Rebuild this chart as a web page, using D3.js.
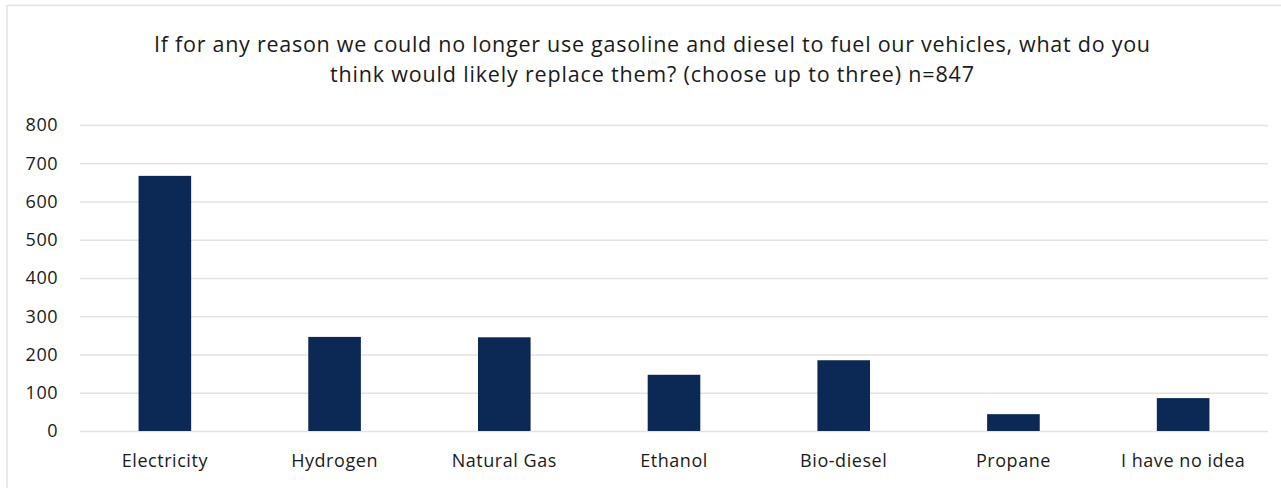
<!DOCTYPE html>
<html><head><meta charset="utf-8">
<script src="https://cdn.jsdelivr.net/npm/d3@7"></script>
<style>body{margin:0;background:#fff}svg{display:block}</style>
</head><body>
<svg id="c" width="1281" height="488"></svg>
<script>
const categories = ["Electricity","Hydrogen","Natural Gas","Ethanol","Bio-diesel","Propane","I have no idea"];
const values = [667, 246, 245, 147, 185, 44, 86];
const yTicks = [0,100,200,300,400,500,600,700,800];
const titleLines = ["If for any reason we could no longer use gasoline and diesel to fuel our vehicles, what do you","think would likely replace them? (choose up to three) n=847"];

const svg = d3.select("#c");
const font = "'Open Sans', sans-serif";
svg.append("rect").attr("x",7).attr("y",5.5).attr("width",1400).attr("height",600)
  .attr("fill","#fff").attr("stroke","#e3e3e3").attr("stroke-width",1.5);

const m = {left:80, right:1268, top:125, bottom:431};
const x = d3.scaleBand().domain(categories).range([m.left,m.right]).paddingInner(0.69).paddingOuter(0.345);
const y = d3.scaleLinear().domain([0,800]).range([m.bottom,m.top]);

svg.append("g").selectAll("text").data(titleLines).join("text")
  .attr("x",652).attr("y",(d,i)=>52+i*30).attr("text-anchor","middle")
  .attr("font-family",font).attr("font-size",21.5).attr("fill","#1a1a1a")
  .attr("textLength",(d,i)=>i===0?996:644).attr("lengthAdjust","spacing")
  .text(d=>d);

const ya = svg.append("g").attr("transform",`translate(${m.left},0)`)
  .call(d3.axisLeft(y).tickValues(yTicks).tickSize(-(m.right-m.left)).tickPadding(22));
ya.select(".domain").remove();
ya.selectAll(".tick line").attr("stroke","#e3e3e3").attr("stroke-width",1.5);
ya.selectAll(".tick text").attr("font-family",font).attr("font-size",18)
  .attr("letter-spacing",0.5).attr("fill","#1a1a1a");

svg.append("g").selectAll("rect").data(values).join("rect")
  .attr("x",(d,i)=>x(categories[i])).attr("width",x.bandwidth())
  .attr("y",d=>y(d)).attr("height",d=>y(0)-y(d))
  .attr("fill","#0c2855");

const xa = svg.append("g").attr("transform",`translate(0,${m.bottom})`)
  .call(d3.axisBottom(x).tickSize(0).tickPadding(0));
xa.select(".domain").remove();
xa.selectAll(".tick text").attr("dy",null).attr("y",36)
  .attr("font-family",font).attr("font-size",18).attr("letter-spacing",0.55).attr("fill","#1a1a1a");
</script>
</body></html>
